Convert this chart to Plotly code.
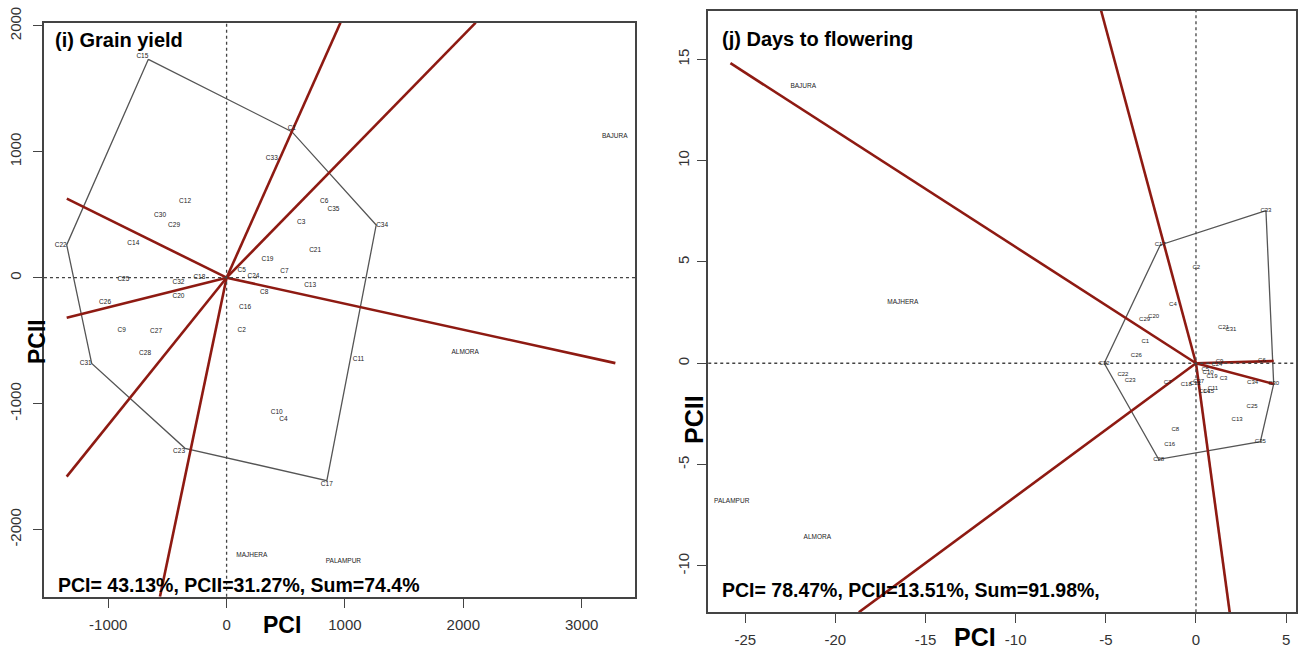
import plotly.graph_objects as go

# ---------------- (i) Grain yield ----------------
gy_geno = ["C1", "C2", "C3", "C4", "C5", "C6", "C7", "C8", "C9", "C10",
           "C11", "C12", "C13", "C14", "C15", "C16", "C17", "C18", "C19", "C20",
           "C21", "C22", "C23", "C24", "C25", "C26", "C27", "C28", "C29", "C30",
           "C31", "C32", "C33", "C34", "C35"]
gy_x = [551, 128, 630, 480, 128, 824, 489, 317, -886, 424,
        1114, -351, 706, -788, -661, 156, 847, -230, 345, -407,
        748, -1351, -351, 227, -872, -1027, -596, -689, -444, -562,
        -1140, -407, 382, 1264, 903]
gy_y = [1159, -420, 437, -1124, 56, 603, 53, -116, -415, -1071,
        -645, 603, -58, 273, 1733, -238, -1611, 3, 146, -151,
        214, 260, -1354, 8, -13, -198, -428, -600, 418, 498,
        -680, -40, 948, 418, 543]
gy_env = ["BAJURA", "ALMORA", "MAJHERA", "PALAMPUR"]
gy_env_x = [3280, 2016, 213, 987]
gy_env_y = [1120, -595, -2201, -2254]
gy_hull = ["C15", "C1", "C34", "C17", "C23", "C31", "C22"]
gy_ray_x = [962, 2105, -1350, 3285, -1351, -1351, -563]
gy_ray_y = [2024, 2024, 628, -678, -317, -1579, -2532]
gy_xticks = [-1000, 0, 1000, 2000, 3000]
gy_yticks = [-2000, -1000, 0, 1000, 2000]
gy_title = "(i) Grain yield"
gy_note = "PCI= 43.13%, PCII=31.27%, Sum=74.4%"

# ---------------- (j) Days to flowering ----------------
df_geno = ["C1", "C2", "C3", "C4", "C5", "C6", "C7", "C8", "C9", "C10",
           "C11", "C12", "C13", "C14", "C15", "C16", "C17", "C18", "C19", "C20",
           "C21", "C22", "C23", "C24", "C25", "C26", "C27", "C28", "C29", "C30",
           "C31", "C32", "C33", "C34", "C35"]
df_x = [-2.81, 0.02, 1.53, -1.28, 0.52, 3.66, -1.57, -1.15, 1.31, 0.67,
        0.94, -0.04, 2.28, 0.46, 0.70, -1.46, -1.98, -0.54, 0.89, -2.35,
        1.53, -4.05, -3.65, 1.16, 3.11, -3.31, 0.15, -2.07, -2.85, 4.31,
        1.94, -5.09, 3.88, 3.14, 3.57]
df_y = [1.07, 4.72, -0.77, 2.88, -0.33, 0.13, -0.96, -3.29, 0.08, -0.46,
        -1.23, -0.99, -2.80, -1.40, -1.40, -4.03, 5.84, -1.04, -0.66, 2.33,
        1.76, -0.54, -0.87, -0.04, -2.14, 0.38, -0.91, -4.74, 2.14, -1.02,
        1.68, 0.00, 7.53, -0.96, -3.87]
df_env = ["BAJURA", "MAJHERA", "PALAMPUR", "ALMORA"]
df_env_x = [-21.78, -16.26, -25.75, -21.00]
df_env_y = [13.69, 2.99, -6.83, -8.59]
df_hull = ["C33", "C30", "C35", "C28", "C32", "C17"]
df_ray_x = [-25.82, -5.26, 1.87, -18.70, 4.31, 4.31]
df_ray_y = [14.81, 17.40, -12.29, -12.29, 0.11, -1.02]
df_xticks = [-25, -20, -15, -10, -5, 0, 5]
df_yticks = [-10, -5, 0, 5, 10, 15]
df_title = "(j) Days to flowering"
df_note = "PCI= 78.47%, PCII=13.51%, Sum=91.98%,"

# ---------------- styles ----------------
RED = "#8E1A12"
HULL = "#555555"
LBL = "#222222"
BOLD_FONT = "Liberation Sans, Arial"
TICK_FONT = "Liberation Sans, Arial"

gy_hull_pos = {"C15": "top left", "C1": "top center", "C34": "middle right",
               "C17": "bottom center", "C23": "bottom left", "C31": "middle left",
               "C22": "middle left"}

fig = go.Figure()


def add_panel(geno, gx, gyv, env, ex, ey, hull, rx, ry, xa, ya, label_pos, lsize):
    idx = {g: i for i, g in enumerate(geno)}
    hx = [gx[idx[g]] for g in hull] + [gx[idx[hull[0]]]]
    hy = [gyv[idx[g]] for g in hull] + [gyv[idx[hull[0]]]]
    fig.add_trace(go.Scatter(x=hx, y=hy, mode="lines",
                             line=dict(color=HULL, width=1.3),
                             xaxis=xa, yaxis=ya, hoverinfo="skip", showlegend=False))
    lx, ly = [], []
    for a, b in zip(rx, ry):
        lx += [0, a, None]
        ly += [0, b, None]
    fig.add_trace(go.Scatter(x=lx, y=ly, mode="lines",
                             line=dict(color=RED, width=2.6),
                             xaxis=xa, yaxis=ya, hoverinfo="skip", showlegend=False))
    pos = [label_pos.get(g, "middle center") for g in geno]
    fig.add_trace(go.Scatter(x=gx, y=gyv, mode="text", text=geno, textposition=pos,
                             textfont=dict(size=lsize, color=LBL, family="Liberation Sans"),
                             xaxis=xa, yaxis=ya, hoverinfo="text", showlegend=False))
    fig.add_trace(go.Scatter(x=ex, y=ey, mode="text", text=env, textposition="middle center",
                             textfont=dict(size=6.5, color=LBL, family="Liberation Sans"),
                             xaxis=xa, yaxis=ya, hoverinfo="text", showlegend=False))


add_panel(gy_geno, gy_x, gy_y, gy_env, gy_env_x, gy_env_y, gy_hull,
          gy_ray_x, gy_ray_y, "x", "y", gy_hull_pos, 6.5)
add_panel(df_geno, df_x, df_y, df_env, df_env_x, df_env_y, df_hull,
          df_ray_x, df_ray_y, "x2", "y2", {}, 6)

axis_common = dict(showgrid=False, zeroline=False, showline=True, mirror=True,
                   automargin=False,
                   linecolor="#444444", linewidth=1.6, ticks="outside", ticklen=9,
                   tickwidth=1.4, tickcolor="#444444",
                   tickfont=dict(size=15, color="#333333", family=TICK_FONT))

fig.update_layout(
    width=1301, height=654, margin=dict(l=0, r=0, t=0, b=0, autoexpand=False),
    paper_bgcolor="white", plot_bgcolor="white", showlegend=False,
    xaxis=dict(domain=[0.0338, 0.4881], range=[-1543, 3451], tickvals=gy_xticks,
               ticktext=[str(v) for v in gy_xticks],
               anchor="y", ticklabelstandoff=4, **axis_common),
    yaxis=dict(domain=[0.0876, 0.9653], range=[-2532, 2024], tickvals=gy_yticks,
               ticktext=[str(v) for v in gy_yticks],
               anchor="x", tickangle=-90, ticklabelstandoff=6, **axis_common),
    xaxis2=dict(domain=[0.5444, 0.9962], range=[-27.05, 5.55], tickvals=df_xticks,
                ticktext=[str(v) for v in df_xticks],
                anchor="y2", ticklabelstandoff=4, **axis_common),
    yaxis2=dict(domain=[0.0638, 0.9836], range=[-12.29, 17.40], tickvals=df_yticks,
                ticktext=[str(v) for v in df_yticks],
                anchor="x2", tickangle=-90, ticklabelstandoff=2, **axis_common),
)

# dotted origin lines
for xr, yr in (("x", "y"), ("x2", "y2")):
    fig.add_shape(type="line", xref=xr + " domain", yref=yr, x0=0, x1=1, y0=0, y1=0,
                  line=dict(color="#444444", width=1.3, dash="dot"))
    fig.add_shape(type="line", xref=xr, yref=yr + " domain", x0=0, x1=0, y0=0, y1=1,
                  line=dict(color="#444444", width=1.3, dash="dot"))


def ann(text, x, y, size, angle=0, xanchor="left"):
    fig.add_annotation(text=text, x=x / 1301, y=1 - y / 654, xref="paper", yref="paper",
                       showarrow=False, xanchor=xanchor, yanchor="middle", textangle=angle,
                       font=dict(size=size, color="black", family=BOLD_FONT))


ann("<b>" + gy_title + "</b>", 53, 40, 20)
ann("<b>" + gy_note + "</b>", 56, 585, 19.5)
ann("<b>" + df_title + "</b>", 720, 39, 20)
ann("<b>" + df_note + "</b>", 720, 590, 19.5)
ann("<b>PCI</b>", 282, 625, 23, xanchor="center")
ann("<b>PCII</b>", 37, 342, 23, angle=-90, xanchor="center")
ann("<b>PCI</b>", 975, 637, 25, xanchor="center")
ann("<b>PCII</b>", 694, 420, 25, angle=-90, xanchor="center")

fig.write_html("out.html")
